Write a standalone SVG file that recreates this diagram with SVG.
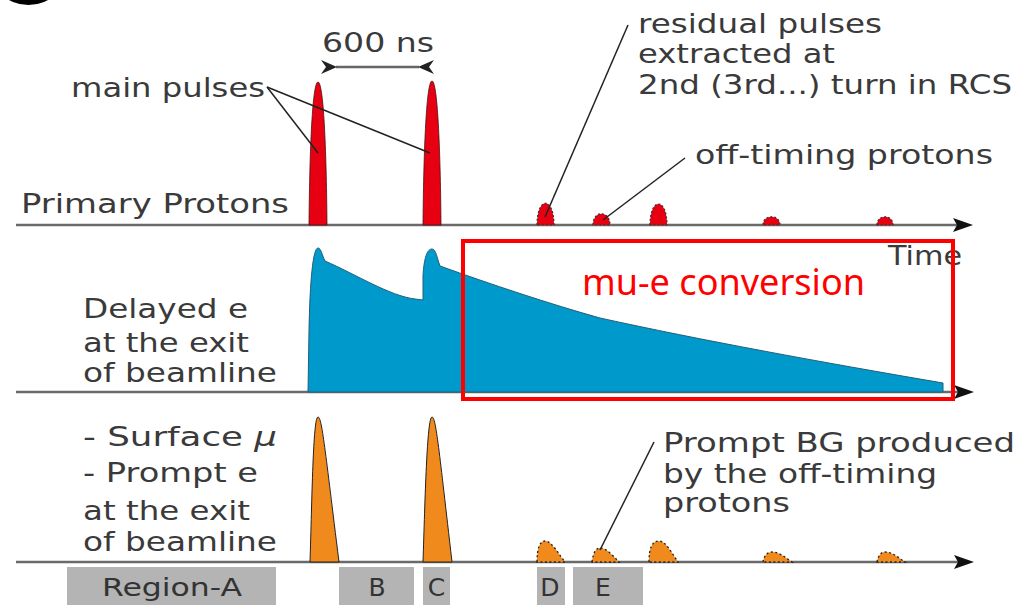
<svg xmlns="http://www.w3.org/2000/svg" width="1022" height="605" viewBox="0 0 1022 605">
<style>
.t{font-family:"DejaVu Sans","Liberation Sans",sans-serif;font-size:27px;fill:#3a3a3a}
.lb{font-family:"DejaVu Sans","Liberation Sans",sans-serif;font-size:25px;fill:#333}
.ax{stroke:#6a6a6a;stroke-width:2.5;fill:none}
.ah{fill:#111}
.ld{stroke:#222;stroke-width:1.5;fill:none}
.rp{fill:#e60012;stroke:#4a1010;stroke-width:0.8}
.rb{fill:#e60012;stroke:#333;stroke-width:1.2;stroke-dasharray:2 2}
.op{fill:#f08a1c;stroke:#222;stroke-width:1}
.ob{fill:#f08a1c;stroke:#222;stroke-width:1.3;stroke-dasharray:2 2.5}
.bx{fill:#b4b4b4}
</style>
<defs>
<marker id="arr" viewBox="0 0 16 14" refX="1" refY="7" markerWidth="16" markerHeight="14" markerUnits="userSpaceOnUse" orient="auto-start-reverse">
<path d="M0,7 L16,0 L11,7 L16,14 Z" fill="#222"/>
</marker>
</defs>
<rect width="1022" height="605" fill="#fff"/>
<circle cx="28.5" cy="-35.5" r="40.5" fill="#000"/>

<g id="axes">
<line class="ax" x1="16" y1="225" x2="958" y2="225"/>
<path class="ah" d="M973,225 L953,218 L957,225 L953,232 Z"/>
<line class="ax" x1="16" y1="392" x2="958" y2="392"/>
<path class="ah" d="M974,392 L954,385 L958,392 L954,399 Z"/>
<line class="ax" x1="16" y1="562" x2="958" y2="562"/>
<path class="ah" d="M974,562 L954,555 L958,562 L954,569 Z"/>
</g>

<g id="primary-protons">
<path class="rp" d="M309,225 C309.5,160 312,82 318,82 C324,82 326.5,160 327,225 Z"/>
<path class="rp" d="M423,225 C423.5,160 426,81 432,81 C438,81 440.5,160 441,225 Z"/>
<path class="rb" d="M537,225 C537,196 554,196 554,225 Z"/>
<path class="rb" d="M593,225 C593,210 610,210 610,225 Z"/>
<path class="rb" d="M650,225 C650,197 667,197 667,225 Z"/>
<path class="rb" d="M763,225 C763,214 780,214 780,225 Z"/>
<path class="rb" d="M877,225 C877,214 893,214 893,225 Z"/>
</g>

<g id="delayed-e">
<path d="M308,392 L309,330 C310,280 313,248 318,248 C321,248 322,255 325,261 C355,274 390,296 415,299 L423,300 L423,276 C424,258 427,249 432,249 C436,249 437,258 440,266 C490,284 550,304 600,318 C700,340 820,362 943,383 L943,392 Z" fill="#0099cc" stroke="#235f78" stroke-width="1"/>
</g>

<g id="prompt">
<path class="op" d="M310,562 C312,500 313,417 318,417 C322,417 325,450 339,562 Z"/>
<path class="op" d="M423,562 C425,500 427,417 432,417 C436,417 439,450 452,562 Z"/>
<path class="ob" d="M537,562 C537,548 540,541 545,541 C552,541 559,555 565,562 Z"/>
<path class="ob" d="M592,562 C593,553 596,548 600,548 C607,548 614,557 619,562 Z"/>
<path class="ob" d="M649,562 C649,548 652,541 659,541 C666,541 673,555 678,562 Z"/>
<path class="ob" d="M763,562 C764,556 767,552 772,552 C780,552 787,559 792,562 Z"/>
<path class="ob" d="M877,562 C878,556 881,552 885,552 C893,552 900,559 905,562 Z"/>
</g>

<g id="connectors">
<line x1="336" y1="67" x2="419" y2="67" stroke="#666" stroke-width="2.5" marker-start="url(#arr)" marker-end="url(#arr)"/>
<line class="ld" x1="267" y1="87" x2="318" y2="153"/>
<line class="ld" x1="267" y1="87" x2="430" y2="153"/>
<line class="ld" x1="628" y1="25" x2="545" y2="217"/>
<line class="ld" x1="685" y1="158" x2="603" y2="220"/>
<line class="ld" x1="654" y1="442" x2="600" y2="550"/>
</g>

<g id="labels">
<text class="t" x="322" y="52" textLength="112" lengthAdjust="spacingAndGlyphs">600 ns</text>
<text class="t" x="71" y="97" textLength="194" lengthAdjust="spacingAndGlyphs">main pulses</text>
<text class="t" x="21" y="213" textLength="268" lengthAdjust="spacingAndGlyphs">Primary Protons</text>
<text class="t" x="638" y="33" textLength="244" lengthAdjust="spacingAndGlyphs">residual pulses</text>
<text class="t" x="638" y="63" textLength="197" lengthAdjust="spacingAndGlyphs">extracted at</text>
<text class="t" x="638" y="94" textLength="374" lengthAdjust="spacingAndGlyphs">2nd (3rd...) turn in RCS</text>
<text class="t" x="695" y="164" textLength="298" lengthAdjust="spacingAndGlyphs">off-timing protons</text>
<text class="t" x="888" y="265" textLength="74" lengthAdjust="spacingAndGlyphs">Time</text>
<text class="t" x="83" y="318" textLength="165" lengthAdjust="spacingAndGlyphs">Delayed e</text>
<text class="t" x="83" y="352" textLength="166" lengthAdjust="spacingAndGlyphs">at the exit</text>
<text class="t" x="83" y="382" textLength="194" lengthAdjust="spacingAndGlyphs">of beamline</text>
<text class="t" x="83" y="446" textLength="194" lengthAdjust="spacingAndGlyphs">- Surface <tspan font-style="italic">μ</tspan></text>
<text class="t" x="83" y="482" textLength="175" lengthAdjust="spacingAndGlyphs">- Prompt e</text>
<text class="t" x="83" y="520" textLength="167" lengthAdjust="spacingAndGlyphs">at the exit</text>
<text class="t" x="83" y="551" textLength="194" lengthAdjust="spacingAndGlyphs">of beamline</text>
<text class="t" x="663" y="452" textLength="352" lengthAdjust="spacingAndGlyphs">Prompt BG produced</text>
<text class="t" x="663" y="483" textLength="274" lengthAdjust="spacingAndGlyphs">by the off-timing</text>
<text class="t" x="663" y="512" textLength="127" lengthAdjust="spacingAndGlyphs">protons</text>
</g>

<g id="regions">
<rect class="bx" x="67" y="567" width="209" height="38"/>
<text class="lb" x="102" y="596" textLength="140" lengthAdjust="spacingAndGlyphs">Region-A</text>
<rect class="bx" x="339" y="567" width="75" height="38"/>
<text class="lb" x="377" y="596" text-anchor="middle">B</text>
<rect class="bx" x="423" y="567" width="27" height="38"/>
<text class="lb" x="436.5" y="596" text-anchor="middle">C</text>
<rect class="bx" x="537" y="567" width="28" height="38"/>
<text class="lb" x="550" y="596" text-anchor="middle">D</text>
<rect class="bx" x="573" y="567" width="70" height="38"/>
<text class="lb" x="603" y="596" text-anchor="middle">E</text>
</g>

<g id="mu-e-box">
<rect x="463" y="241" width="490" height="158" fill="none" stroke="#ff0000" stroke-width="4"/>
<text x="582" y="295" font-family="'Noto Sans','Open Sans',sans-serif" font-size="36" fill="#ff0000" textLength="283" lengthAdjust="spacingAndGlyphs">mu-e conversion</text>
</g>
</svg>
